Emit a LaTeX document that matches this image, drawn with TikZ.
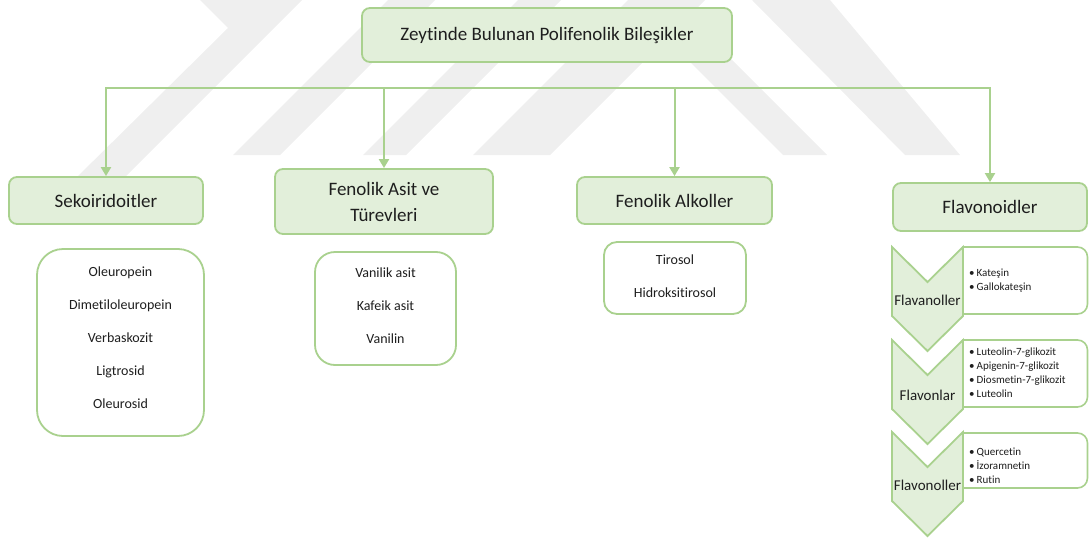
\documentclass[tikz,border=0pt]{standalone}
\usepackage{fontspec}
\setmainfont{Carlito}[Ligatures=NoCommon]
\usetikzlibrary{arrows.meta}
\definecolor{gfill}{HTML}{E2EFDA}
\definecolor{gline}{HTML}{A9D18E}
\definecolor{tcol}{HTML}{1E1E1E}
\definecolor{wm}{HTML}{EFEFEF}
\begin{document}
\begin{tikzpicture}[x=1pt,y=-1pt,
  hdr/.style={draw=gline, fill=gfill, line width=1.8pt, rounded corners=8pt, align=center, text=tcol, inner sep=0pt, font=\fontsize{19}{26}\selectfont},
  lst/.style={draw=gline, fill=white, line width=1.8pt, inner sep=0pt},
  lsttext/.style={align=center, text=tcol, inner sep=0pt},
  wire/.style={draw=gline, line width=2pt},
  conn/.style={wire, -{Triangle[length=9pt,width=10pt]}},
  chev/.style={draw=gline, fill=gfill, line width=1.8pt, line join=miter},
  sidebox/.style={draw=gline, fill=white, line width=1.6pt},
  flab/.style={text=tcol, inner sep=0pt, font=\fontsize{15}{18}\selectfont},
  blist/.style={align=left, text=tcol, inner sep=0pt, anchor=north west, font=\fontsize{11}{14}\selectfont},
]
\useasboundingbox (0,0) rectangle (1089,538);
% watermark
\fill[wm] (74,180) -- (228,28) -- (200,0) -- (302,0) -- (122,180) -- cycle;
\fill[wm] (233,155) -- (388,0) -- (435,0) -- (280,155) -- cycle;
\fill[wm] (363,155) -- (518,0) -- (561,0) -- (406,155) -- cycle;
\fill[wm] (473,155) -- (628,0) -- (705,0) -- (550,155) -- cycle;
\fill[wm] (628,0) -- (672,0) -- (827,155) -- (783,155) -- cycle;
\fill[wm] (752,0) -- (830,0) -- (960,155) -- (905,155) -- cycle;

% title and headers
\node[hdr, minimum width=370pt, minimum height=54pt] (title) at (547,35) {Zeytinde Bulunan Polifenolik Bileşikler};
\node[hdr, minimum width=194pt, minimum height=47pt] (seko) at (106,200.5) {Sekoiridoitler};
\node[hdr, minimum width=218pt, minimum height=65pt] (fa) at (384,201.5) {Fenolik Asit ve\\Türevleri};
\node[hdr, minimum width=195pt, minimum height=47pt] (alk) at (674.5,200.5) {Fenolik Alkoller};
\node[hdr, minimum width=194pt, minimum height=48pt] (flav) at (990,207) {Flavonoidler};

% connectors
\coordinate (hy) at (0,88);
\coordinate (h1) at (seko.north |- hy);
\coordinate (h2) at (fa.north |- hy);
\coordinate (h3) at (alk.north |- hy);
\coordinate (h4) at (flav.north |- hy);
\draw[conn] (h2) -- (h1) -- (seko.north);
\draw[conn] (h3) -- (h4) -- (flav.north);
\draw[wire] (h2) -- (h3);
\draw[conn] (h2) -- (fa.north);
\draw[conn] (h3) -- (alk.north);

% lists
\node[lst, rounded corners=26pt, minimum width=167pt, minimum height=187pt] (sekoL) at (120.5,342.5) {};
\node[lsttext, font=\fontsize{14}{33}\selectfont] (sekoT) at (120.5,338) {Oleuropein\\Dimetiloleuropein\\Verbaskozit\\Ligtrosid\\Oleurosid};
\node[lst, rounded corners=20pt, minimum width=141pt, minimum height=113pt] (faL) at (385.5,308.5) {};
\node[lsttext, font=\fontsize{14}{33}\selectfont] (faT) at (385.5,306) {Vanilik asit\\Kafeik asit\\Vanilin};
\node[lst, rounded corners=13pt, minimum width=142pt, minimum height=72pt] (alkL) at (675,278) {};
\node[lsttext, font=\fontsize{14}{33}\selectfont] (alkT) at (675,276) {Tirosol\\Hidroksitirosol};

% flavonoid side boxes
\draw[sidebox] (963,247) -- (1077.5,247) arc[start angle=-90,end angle=0,radius=10] -- (1087.5,304) arc[start angle=0,end angle=90,radius=10] -- (963,314) -- cycle;
\draw[sidebox] (963,340) -- (1077.5,340) arc[start angle=-90,end angle=0,radius=10] -- (1087.5,397) arc[start angle=0,end angle=90,radius=10] -- (963,407) -- cycle;
\draw[sidebox] (963,433) -- (1077.5,433) arc[start angle=-90,end angle=0,radius=10] -- (1087.5,478) arc[start angle=0,end angle=90,radius=10] -- (963,488) -- cycle;

% chevrons
\draw[chev] (892,247) -- (927.5,282) -- (963,247) -- (963,316) -- (927.5,351) -- (892,316) -- cycle;
\draw[chev] (892,340) -- (927.5,375) -- (963,340) -- (963,409) -- (927.5,444) -- (892,409) -- cycle;
\draw[chev] (892,432) -- (927.5,467) -- (963,432) -- (963,501) -- (927.5,536) -- (892,501) -- cycle;

\node[flab] (fl1) at (927.5,300) {Flavanoller};
\node[flab] (fl2) at (927.5,395) {Flavonlar};
\node[flab] (fl3) at (927.5,485) {Flavonoller};

\node[blist] (bl1) at (969,269) {\textbullet\hspace{2pt}Kateşin\\\textbullet\hspace{2pt}Gallokateşin};
\node[blist] (bl2) at (969,348) {\textbullet\hspace{2pt}Luteolin-7-glikozit\\\textbullet\hspace{2pt}Apigenin-7-glikozit\\\textbullet\hspace{2pt}Diosmetin-7-glikozit\\\textbullet\hspace{2pt}Luteolin};
\node[blist] (bl3) at (969,448) {\textbullet\hspace{2pt}Quercetin\\\textbullet\hspace{2pt}İzoramnetin\\\textbullet\hspace{2pt}Rutin};
\end{tikzpicture}
\end{document}
